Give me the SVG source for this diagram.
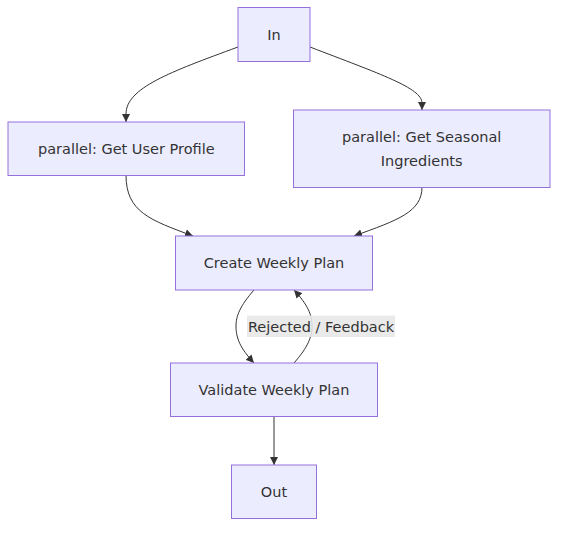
<svg xmlns="http://www.w3.org/2000/svg" width="566" height="534" viewBox="0 0 566 534">
<style>
.node rect{fill:#ECECFF;stroke:#9370DB;stroke-width:1}
.node text, .lbl text{font-family:"DejaVu Sans",Verdana,sans-serif;font-size:14.5px;fill:#333333;text-anchor:middle;dominant-baseline:central}
.edge{fill:none;stroke:#333333;stroke-width:1}
.lbl rect{fill:#e8e8e8;opacity:0.9}
</style>
<defs>
<marker id="arrow" viewBox="0 0 10 10" refX="10" refY="5" markerWidth="8" markerHeight="8" markerUnits="userSpaceOnUse" orient="auto">
<path d="M0,0 L10,5 L0,10 z" fill="#333333"/>
</marker>
</defs>
<rect width="566" height="534" fill="#ffffff"/>
<g id="connectors">
<path class="edge" d="M238,47 C170,72 126,88 126,114 L126,122" marker-end="url(#arrow)"/>
<path class="edge" d="M310,47 C380,74 422,88 422,103 L422,110" marker-end="url(#arrow)"/>
<path class="edge" d="M126,175 C126,212 150,220 193,236" marker-end="url(#arrow)"/>
<path class="edge" d="M422,187 C422,212 398,220 354,236" marker-end="url(#arrow)"/>
<path class="edge" d="M254,290 C240,306 236,316 236,326 C236,338 240,348 254,363" marker-end="url(#arrow)"/>
<path class="edge" d="M294,363 C308,347 312,337 312,326 C312,315 308,305 294,290" marker-end="url(#arrow)"/>
<path class="edge" d="M274,417 L274,465" marker-end="url(#arrow)"/>
</g>
<g id="label-feedback" class="lbl">
<rect x="247" y="315.5" width="148" height="21.5"/>
<text x="321" y="326.5">Rejected / Feedback</text>
</g>
<g id="node-in" class="node">
<rect x="238" y="7.5" width="72" height="54"/>
<text x="274" y="34.5">In</text>
</g>
<g id="node-user-profile" class="node">
<rect x="8" y="122" width="236.5" height="53.5"/>
<text x="126.3" y="148.7">parallel: Get User Profile</text>
</g>
<g id="node-seasonal" class="node">
<rect x="293.5" y="110" width="256.5" height="77.5"/>
<text x="421.7" y="137">parallel: Get Seasonal</text>
<text x="421.7" y="161">Ingredients</text>
</g>
<g id="node-create" class="node">
<rect x="175.5" y="236" width="197" height="54"/>
<text x="274" y="263">Create Weekly Plan</text>
</g>
<g id="node-validate" class="node">
<rect x="170.5" y="363" width="207" height="53.5"/>
<text x="274" y="389.7">Validate Weekly Plan</text>
</g>
<g id="node-out" class="node">
<rect x="231.5" y="465" width="85" height="53.5"/>
<text x="274" y="491.7">Out</text>
</g>
</svg>
